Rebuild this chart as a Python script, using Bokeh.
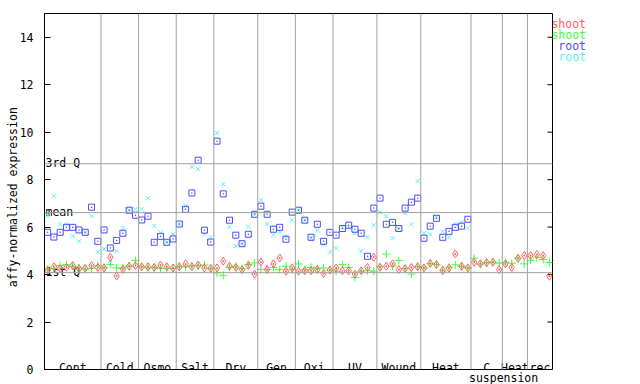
import math
from bokeh.plotting import figure
from bokeh.models import Range1d, FixedTicker, Span, ColumnDataSource
from bokeh.core.properties import value
from bokeh.embed import file_html
from bokeh.resources import INLINE

# ---------------- data ----------------
groups = ["Cont", "Cold", "Osmo", "Salt", "Dry", "Gen", "Oxi", "UV", "Wound", "Heat", "C", "Heat", "rec"]
group_sizes = [9, 6, 6, 6, 7, 6, 6, 7, 7, 8, 5, 4, 4]

shoot_1 = [4.18, 4.33, 4.25, 4.30, 4.38, 4.25, 4.26, 4.38, 4.30,
           4.28, 4.73, 3.94, 4.22, 4.35, 4.38,
           4.33, 4.33, 4.30, 4.40, 4.33, 4.28,
           4.33, 4.45, 4.33, 4.40, 4.28, 4.26,
           4.28, 4.56, 4.35, 4.30, 4.21, 4.39, 4.02,
           4.53, 4.21, 4.45, 4.70, 4.14, 4.28,
           4.14, 4.16, 4.16, 4.21, 4.05, 4.19,
           4.28, 4.16, 4.16, 4.02, 4.16, 4.30, 4.73,
           4.30, 4.35, 4.45, 4.21, 4.25, 4.30, 4.33,
           4.28, 4.47, 4.42, 4.18, 4.27, 4.87, 4.35, 4.28,
           4.52, 4.46, 4.50, 4.52, 4.21,
           4.45, 4.30, 4.68, 4.80,
           4.80, 4.85, 4.80, 3.93]
shoot_2 = [4.22, 4.25, 4.38, 4.42, 4.35, 4.28, 4.22, 4.26, 4.37,
           4.30, 4.42, 4.28, 4.28, 4.35, 4.59,
           4.33, 4.28, 4.30, 4.25, 4.26, 4.26,
           4.33, 4.33, 4.37, 4.37, 4.40, 4.26,
           4.07, 3.97, 4.30, 4.35, 4.25, 4.42, 4.49,
           4.21, 4.21, 4.30, 4.21, 4.35, 4.21,
           4.45, 4.21, 4.30, 4.25, 4.28, 4.19,
           4.14, 4.42, 4.30, 3.88, 4.14, 4.16, 4.14,
           4.33, 4.86, 4.35, 4.59, 4.25, 4.02, 4.34,
           4.28, 4.46, 4.42, 4.16, 4.31, 4.41, 4.35, 4.28,
           4.69, 4.44, 4.50, 4.52, 4.48,
           4.50, 4.48, 4.69, 4.45,
           4.60, 4.73, 4.63, 4.51]
root_1 = [5.78, 5.58, 5.78, 5.99, 5.99, 5.88, 5.78, 6.84, 5.40,
          5.88, 5.12, 5.44, 5.74, 6.71, 6.50,
          6.30, 6.46, 5.36, 5.61, 5.36, 5.50,
          6.13, 6.75, 7.44, 8.82, 5.87, 5.37,
          9.62, 7.40, 6.29, 5.66, 5.30, 5.70, 6.54,
          6.88, 6.54, 5.91, 5.99, 5.49, 6.63,
          6.71, 6.29, 5.57, 6.12, 5.40, 5.78,
          5.66, 5.94, 6.08, 5.91, 5.74, 4.77, 6.80,
          7.22, 6.12, 6.20, 5.94, 6.80, 7.05, 7.22,
          5.53, 6.04, 6.37, 5.57, 5.82, 5.99, 6.04, 6.33]
root_2 = [6.48, 7.30, 6.12, 6.12, 5.63, 5.40, 5.78, 6.46, 4.95,
          5.08, 4.60, 4.99, 5.95, 6.71, 6.75,
          6.75, 7.22, 6.05, 5.77, 5.36, 5.71,
          6.13, 6.89, 8.54, 8.44, 5.70, 5.57,
          9.96, 7.81, 6.02, 5.20, 5.30, 6.02, 6.54,
          7.13, 6.12, 5.66, 5.80, 5.61, 6.29,
          6.71, 6.29, 5.53, 5.86, 5.26, 4.94,
          5.11, 5.99, 6.00, 5.74, 4.99, 5.57, 6.08,
          6.63, 6.46, 5.53, 5.94, 6.59, 6.12, 7.94,
          5.74, 5.70, 6.44, 5.82, 5.57, 6.12, 6.20, 5.95]

quartile_names = ["3rd Q", "mean", "1st Q"]
quartile_values = [8.67, 6.61, 4.08]

legend_labels = ["shoot", "shoot", "root", "root"]
y_ticks = [0, 2, 4, 6, 8, 10, 12, 14]

# ---------------- styles ----------------
RED, GREEN, BLUE, CYAN = "#ff6060", "#40ff40", "#4c4cff", "#55f5f5"
GRID = "#a0a0a0"
FONT = "DejaVu Sans Mono"
FS = "11.5px"

W, H = 640, 384
FRAME_L, FRAME_T, FRAME_R, FRAME_B = 44, 13, 552, 369
n = sum(group_sizes)
X0, X1 = -0.5, n - 0.5
Y0, Y1 = 0.0, 15.0
PXU = (FRAME_R - FRAME_L) / (X1 - X0)

def px_x(px):  # canvas pixel -> data x
    return X0 + (px - FRAME_L) / PXU

def px_y(py):  # canvas pixel (from top) -> data y
    return Y1 - (py - FRAME_T) * (Y1 - Y0) / (FRAME_B - FRAME_T)

p = figure(width=W, height=H, output_backend="svg", toolbar_location=None,
           x_range=Range1d(X0, X1), y_range=Range1d(Y0, Y1),
           min_border_left=FRAME_L, min_border_top=FRAME_T,
           min_border_right=W - FRAME_R, min_border_bottom=H - FRAME_B)
p.background_fill_color = "white"
p.border_fill_color = "white"
p.outline_line_color = "black"
p.outline_line_width = 1
p.xgrid.visible = False
p.ygrid.visible = False
p.xaxis.visible = False

ya = p.yaxis[0]
ya.ticker = FixedTicker(ticks=y_ticks)
ya.major_tick_in = 6
ya.major_tick_out = 0
ya.minor_tick_in = 0
ya.minor_tick_out = 0
ya.major_label_standoff = 11
ya.major_label_text_font = FONT
ya.major_label_text_font_size = FS
ya.major_label_text_color = "black"
ya.axis_line_color = "black"
ya.major_tick_line_color = "black"

# mirrored ticks on the right edge
p.segment(x0=[X1] * len(y_ticks), x1=[X1 - 5 / PXU] * len(y_ticks), y0=y_ticks, y1=y_ticks,
          line_color="black", line_width=1)

# group dividers
xs = list(range(n))
starts = []
acc = 0
for s in group_sizes:
    starts.append(acc)
    acc += s
for st in starts[1:]:
    p.add_layout(Span(location=st - 0.5, dimension="height", line_color=GRID, line_width=1))
for qv in quartile_values:
    p.add_layout(Span(location=qv, dimension="width", line_color=GRID, line_width=1))

# quartile labels
p.text(x=[X0] * 3, y=quartile_values, text=quartile_names, x_offset=1, y_offset=-1,
       text_align="left", text_baseline="alphabetic", text_font=value(FONT),
       text_font_size=FS, text_color="black")

# group labels
centers = [st + sz / 2 - 0.5 for st, sz in zip(starts, group_sizes)]
p.text(x=centers, y=[0.08] * len(groups), text=groups, text_align="center",
       text_baseline="alphabetic", text_font=value(FONT), text_font_size=FS, text_color="black")
r_susp = p.text(x=[starts[10] - 0.5], y=[px_y(377.5)], text=["suspension"], x_offset=-2,
                text_align="left", text_baseline="alphabetic", text_font=value(FONT),
                text_font_size=FS, text_color="black")
r_susp.level = "overlay"

# y label
r_yl = p.text(x=[px_x(12)], y=[px_y(196.7)], text=["affy-normalized expression"], angle=math.pi / 2,
              text_align="center", text_baseline="middle", text_font=value(FONT),
              text_font_size=FS, text_color="black")
r_yl.level = "overlay"

# series
nan = float("nan")
r1 = root_1 + [nan] * (n - len(root_1))
r2 = root_2 + [nan] * (n - len(root_2))
src = ColumnDataSource(dict(x=xs, s1=shoot_1, s2=shoot_2, r1=r1, r2=r2))
p.scatter("x", "r2", source=src, marker="x", size=6, line_color=CYAN, line_width=1)
p.scatter("x", "r1", source=src, marker="square_dot", size=6, line_color=BLUE, fill_color=None, line_width=1)
p.scatter("x", "s2", source=src, marker="cross", size=8, line_color=GREEN, line_width=1)
p.scatter("x", "s1", source=src, marker="diamond_dot", size=8, line_color=RED, fill_color=None, line_width=1)

# legend (outside frame, to the right)
leg_colors = [RED, GREEN, BLUE, CYAN]
leg_markers = ["diamond_dot", "cross", "square_dot", "x"]
leg_rows = [23.7, 34.3, 45.3, 56.3]
leg_y = [px_y(r) for r in leg_rows]
rt = p.text(x=[px_x(585.5)] * 4, y=leg_y, text=legend_labels, text_align="right",
            text_baseline="middle", text_font=value(FONT), text_font_size=FS,
            text_color=leg_colors)
rt.level = "overlay"
sizes = [8, 8, 6, 6]
for i in range(4):
    rm = p.scatter(x=[px_x(609)], y=[leg_y[i]], marker=leg_markers[i], size=sizes[i],
                   line_color=leg_colors[i], fill_color=None, line_width=1)
    rm.level = "overlay"

open("out.html", "w").write(file_html(p, INLINE))
